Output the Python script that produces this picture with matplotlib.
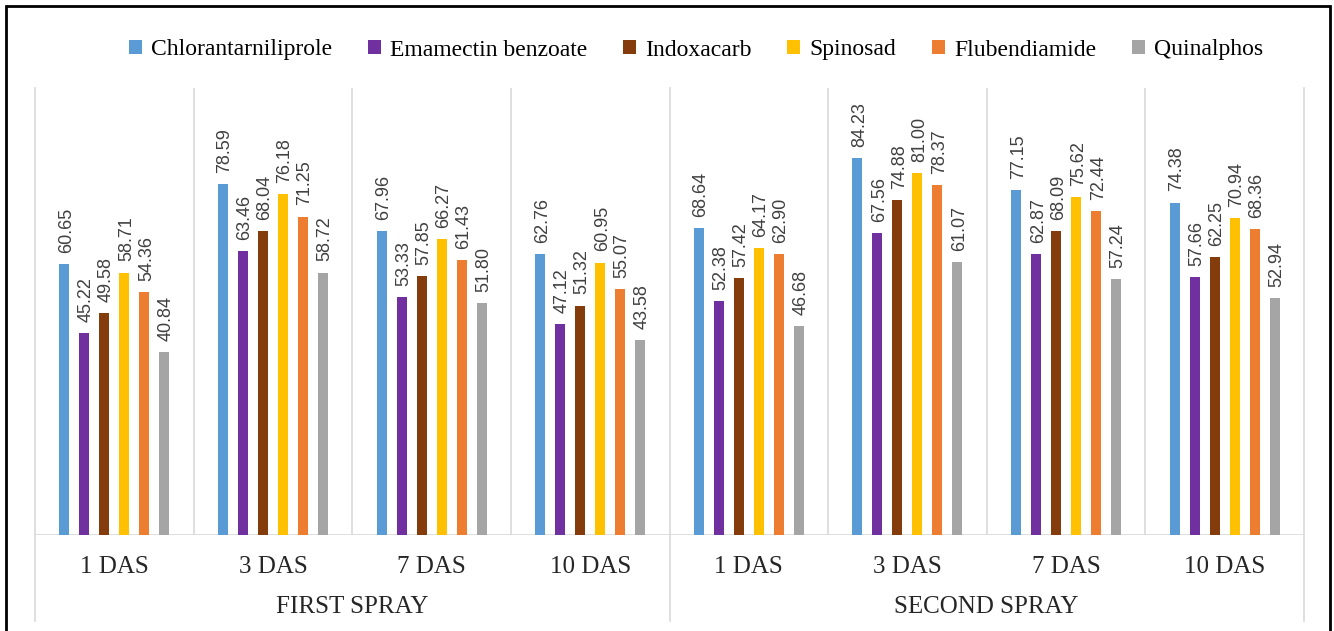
import numpy as np
import matplotlib
matplotlib.use("Agg")
import matplotlib.pyplot as plt
from matplotlib.patches import Rectangle

days = ["1 DAS", "3 DAS", "7 DAS", "10 DAS", "1 DAS", "3 DAS", "7 DAS", "10 DAS"]
sprays = ["FIRST SPRAY", "SECOND SPRAY"]
names = ["Chlorantarniliprole", "Emamectin benzoate", "Indoxacarb",
         "Spinosad", "Flubendiamide", "Quinalphos"]

chlorantraniliprole = [60.65, 78.59, 67.96, 62.76, 68.64, 84.23, 77.15, 74.38]
emamectin = [45.22, 63.46, 53.33, 47.12, 52.38, 67.56, 62.87, 57.66]
indoxacarb = [49.58, 68.04, 57.85, 51.32, 57.42, 74.88, 68.09, 62.25]
spinosad = [58.71, 76.18, 66.27, 60.95, 64.17, 81.00, 75.62, 70.94]
flubendiamide = [54.36, 71.25, 61.43, 55.07, 62.90, 78.37, 72.44, 68.36]
quinalphos = [40.84, 58.72, 51.80, 43.58, 46.68, 61.07, 57.24, 52.94]

series = [chlorantraniliprole, emamectin, indoxacarb, spinosad, flubendiamide, quinalphos]
colors = ["#5B9BD5", "#7030A0", "#843C0C", "#FFC000", "#ED7D31", "#A5A5A5"]

W, H = 1334, 631
fig = plt.figure(figsize=(W / 100, H / 100), dpi=100)
ax = fig.add_axes([35 / W, 1 - 535 / H, (1304 - 35) / W, (535 - 88) / H])

x = np.arange(len(days))
bw = 10 / 158.6
step = 20 / 158.6
handles = []
for i, (vals, c) in enumerate(zip(series, colors)):
    pos = x + (i - 2.5) * step
    b = ax.bar(pos, vals, width=bw, color=c, zorder=3)
    handles.append(b)
    for p, v in zip(pos, vals):
        ax.annotate("%.2f" % v, (p, v), xytext=(1.5, 8), textcoords="offset points",
                    rotation=90, ha="center", va="bottom", fontsize=13,
                    family="Liberation Sans", color="#404040")

ax.set_xlim(-0.5, len(days) - 0.5)
ax.set_ylim(0, 100)
ax.set_yticks([])
for s in ax.spines.values():
    s.set_visible(False)
ax.axhline(0, color="#D9D9D9", lw=1.2, zorder=2)

# separators between groups
for k in range(len(days) + 1):
    b = k - 0.5
    if k in (0, 4, 8):
        ax.axvline(b, ymin=-(621 - 535) / 447, ymax=1, color="#D9D9D9", lw=1.2, clip_on=False)
    else:
        ax.axvline(b, ymin=0, ymax=1, color="#D9D9D9", lw=1.2)

ax.set_xticks(x)
ax.set_xticklabels(days, family="Liberation Serif", fontsize=18, color="#262626")
ax.tick_params(axis="x", length=0, pad=15)

for j, s in enumerate(sprays):
    ax.text(1.5 + 4 * j, -(607 - 535) / 4.47, s, ha="center", va="center",
            family="Liberation Serif", fontsize=18, color="#262626")

fig.legend(handles, names, loc="center", bbox_to_anchor=(696 / W, 1 - 50 / H), ncol=6,
           frameon=False, prop={"family": "Liberation Serif", "size": 17},
           handlelength=0.55, handleheight=0.55, handletextpad=0.4, columnspacing=1.5)

fig.add_artist(Rectangle((6 / W, -0.05), 1324 / W, 1.05 - 6 / H, transform=fig.transFigure,
                         fill=False, edgecolor="black", lw=2))

fig.savefig("out.png", dpi=100)
